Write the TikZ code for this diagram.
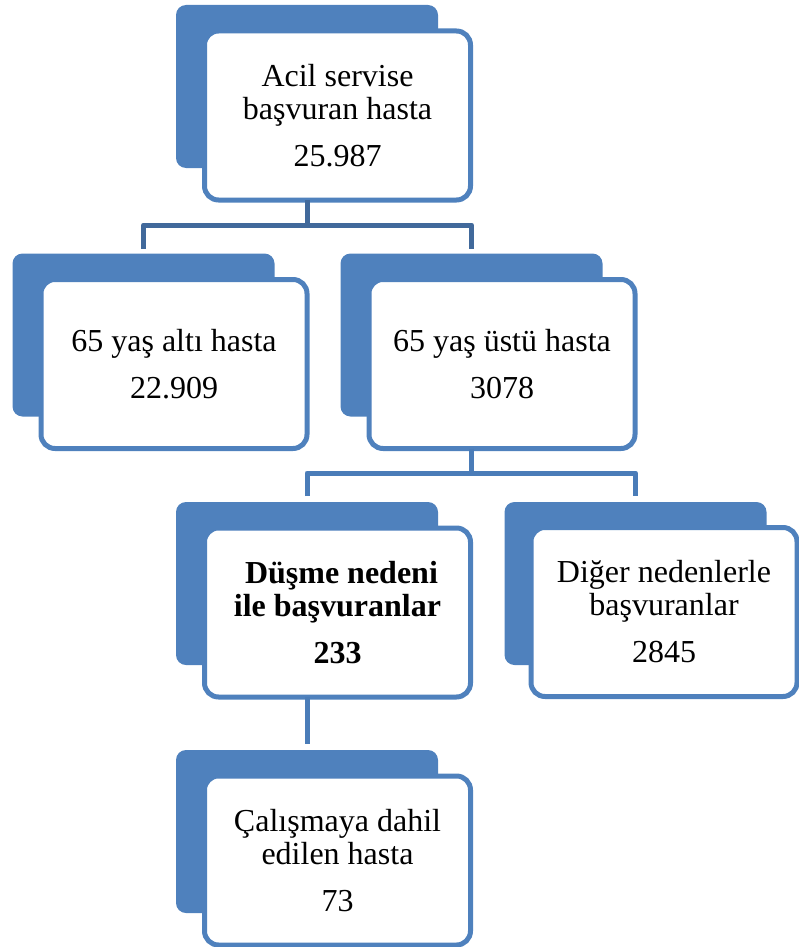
\documentclass[tikz,border=0pt]{standalone}
\usepackage{fontspec}
\setmainfont{Liberation Serif}
\usepackage{tikz}
\definecolor{boxblue}{HTML}{4F81BD}
\definecolor{linkdark}{HTML}{41699B}
\definecolor{linkblue}{HTML}{4A7CB8}

\begin{document}
\begin{tikzpicture}[x=1pt,y=-1pt,
	backbox/.style={fill=boxblue,rounded corners=10pt,minimum width=262pt,minimum height=163pt,inner sep=0pt,outer sep=0pt},
	frontbox/.style={draw=boxblue,fill=white,line width=5pt,rounded corners=14pt,minimum width=266pt,minimum height=169pt,inner sep=0pt,outer sep=0pt,align=center,font=\fontsize{32}{33}\selectfont},
	link/.style={line width=5pt,line join=round}]
	\useasboundingbox (0,0) rectangle (798,947);
	\node[backbox] (b1) at (307,86.5) {};
	\node[frontbox] (f1) at (337.5,115.5) {Acil servise\\başvuran hasta\\[14pt]25.987};
	\node[backbox] (b2) at (143.5,335) {};
	\node[frontbox] (f2) at (174,364) {65 yaş altı hasta\\[14pt]22.909};
	\node[backbox] (b3) at (471.5,335) {};
	\node[frontbox] (f3) at (502,364) {65 yaş üstü hasta\\[14pt]3078};
	\node[backbox] (b4) at (307,583.5) {};
	\node[frontbox,font=\fontsize{32}{33}\selectfont\bfseries] (f4) at (337.5,612.5) {\hspace*{0.25em}Düşme nedeni\\ile başvuranlar\\[14pt]233};
	\node[backbox] (b5) at (635.5,583.5) {};
	\node[frontbox] (f5) at (664,612) {Diğer nedenlerle\\başvuranlar\\[14pt]2845};
	\node[backbox] (b6) at (307,831.5) {};
	\node[frontbox] (f6) at (337.5,860.5) {Çalışmaya dahil\\edilen hasta\\[14pt]73};
	\coordinate (j1) at (307,225);
	\coordinate (j2) at (471.5,473);
	\draw[link,draw=linkdark] (b1 |- f1.south) -- (j1);
	\draw[link,draw=linkdark,shorten <=5pt,shorten >=5pt] (b2.north) |- (j1) -| (b3.north);
	\draw[link,draw=linkblue] (b3 |- f3.south) -- (j2);
	\draw[link,draw=linkblue,shorten <=6pt,shorten >=6pt] (b4.north) |- (j2) -| (b5.north);
	\draw[link,draw=linkblue,shorten >=6pt] (b4 |- f4.south) -- (b6.north);
\end{tikzpicture}
\end{document}
